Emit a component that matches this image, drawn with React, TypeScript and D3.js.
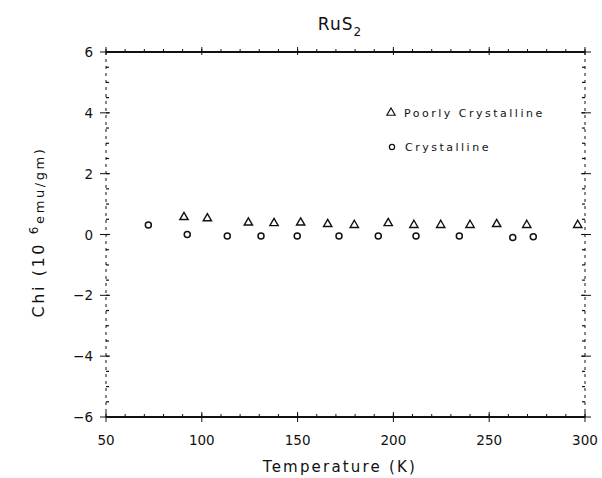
import React from "react";
import * as d3 from "d3";

const poorlyT = [90.7, 102.9, 124.3, 137.7, 151.6, 165.7, 179.6, 197.3, 210.7, 224.7, 240.0, 253.9, 269.6, 296.2];
const poorlyChi = [0.57, 0.53, 0.39, 0.37, 0.39, 0.34, 0.31, 0.37, 0.31, 0.31, 0.31, 0.34, 0.31, 0.31];
const crystT = [72.1, 92.4, 113.3, 130.9, 149.8, 171.6, 192.1, 211.8, 234.4, 262.3, 273.0];
const crystChi = [0.31, 0.0, -0.05, -0.05, -0.05, -0.05, -0.05, -0.05, -0.05, -0.1, -0.07];
const xTicks = [50, 100, 150, 200, 250, 300];
const yTicks = [-6, -4, -2, 0, 2, 4, 6];
const legendLabels = ["Poorly Crystalline", "Crystalline"];

const W = 602, H = 478;
const M = { left: 106, right: 585, top: 52, bottom: 417 };

export default function App() {
  const x = d3.scaleLinear().domain([50, 300]).range([M.left, M.right]);
  const y = d3.scaleLinear().domain([-6, 6]).range([M.bottom, M.top]);
  const xMinor = d3.range(50, 301, 10);
  const yMinor = d3.range(-6, 6.01, 0.5);
  const tri = d3.symbol().type(d3.symbolTriangle).size(30)() as string;
  const font = "'DejaVu Sans', sans-serif";
  const ink = "#111";
  return (
    <svg width={W} height={H} style={{ position: "absolute", left: 0, top: 0, background: "#fff" }}>
      {/* frame */}
      <line x1={M.left} x2={M.right} y1={M.top} y2={M.top} stroke={ink} strokeWidth={2} />
      <line x1={M.left} x2={M.right} y1={M.bottom} y2={M.bottom} stroke={ink} strokeWidth={2} />
      <line x1={M.left} x2={M.left} y1={M.top} y2={M.bottom} stroke={ink} strokeWidth={1} strokeDasharray="3,4" />
      <line x1={M.right} x2={M.right} y1={M.top} y2={M.bottom} stroke={ink} strokeWidth={1} strokeDasharray="3,4" />
      {/* x minor ticks */}
      {xMinor.map((t) => (
        <g key={"xm" + t}>
          <line x1={x(t)} x2={x(t)} y1={M.bottom} y2={M.bottom - 3} stroke={ink} />
          <line x1={x(t)} x2={x(t)} y1={M.top} y2={M.top - 3} stroke={ink} />
        </g>
      ))}
      {/* x major ticks */}
      {xTicks.map((t) => (
        <g key={"x" + t}>
          <line x1={x(t)} x2={x(t)} y1={M.bottom - 5} y2={M.bottom + 5} stroke={ink} />
          <line x1={x(t)} x2={x(t)} y1={M.top - 5} y2={M.top + 3} stroke={ink} />
          <text x={x(t)} y={445} textAnchor="middle" fontFamily={font} fontSize={13.5} fill={ink}>{t}</text>
        </g>
      ))}
      {/* y minor ticks */}
      {yMinor.map((t) => (
        <g key={"ym" + t}>
          <line x1={M.left} x2={M.left + 3} y1={y(t)} y2={y(t)} stroke={ink} strokeWidth={1.2} />
          <line x1={M.right} x2={M.right - 3} y1={y(t)} y2={y(t)} stroke={ink} strokeWidth={1.2} />
        </g>
      ))}
      {/* y major ticks */}
      {yTicks.map((t) => (
        <g key={"y" + t}>
          <line x1={M.left - 6} x2={M.left + 4} y1={y(t)} y2={y(t)} stroke={ink} />
          <line x1={M.right - 4} x2={M.right + 6} y1={y(t)} y2={y(t)} stroke={ink} />
          <text x={M.left - 13} y={y(t) + 5} textAnchor="end" fontFamily={font} fontSize={13.5} fill={ink}>
            {t < 0 ? "\u2212" + Math.abs(t) : t}
          </text>
        </g>
      ))}
      {/* data */}
      {poorlyT.map((t, i) => (
        <path key={"p" + i} d={tri} transform={`translate(${x(t)},${y(poorlyChi[i])})`} fill="none" stroke={ink} strokeWidth={1.4} />
      ))}
      {crystT.map((t, i) => (
        <circle key={"c" + i} cx={x(t)} cy={y(crystChi[i])} r={3} fill="none" stroke={ink} strokeWidth={1.5} />
      ))}
      {/* legend */}
      <path d={tri} transform={`translate(391,${y(4)})`} fill="none" stroke={ink} strokeWidth={1.2} />
      <text x={404} y={y(4) + 4} fontFamily={font} fontSize={11} letterSpacing={2.5} fill={ink}>{legendLabels[0]}</text>
      <circle cx={392} cy={147} r={2.6} fill="none" stroke={ink} strokeWidth={1.2} />
      <text x={405} y={151} fontFamily={font} fontSize={11} letterSpacing={2.5} fill={ink}>{legendLabels[1]}</text>
      {/* title */}
      <text x={340} y={30} textAnchor="middle" fontFamily={font} fontSize={17} fill={ink} letterSpacing={1}>
        RuS<tspan fontSize={12} dy={6}>2</tspan>
      </text>
      {/* axis titles */}
      <text x={340} y={472} textAnchor="middle" fontFamily={font} fontSize={15} letterSpacing={2.2} fill={ink}>Temperature (K)</text>
      <text transform={`translate(44,${232}) rotate(-90)`} textAnchor="middle" fontFamily={font} fontSize={16} letterSpacing={2.6} fill={ink}>
        Chi  (10 <tspan dy={-6} fontSize={12}>6</tspan><tspan dy={6} fontSize={13}>emu/gm)</tspan>
      </text>
    </svg>
  );
}
